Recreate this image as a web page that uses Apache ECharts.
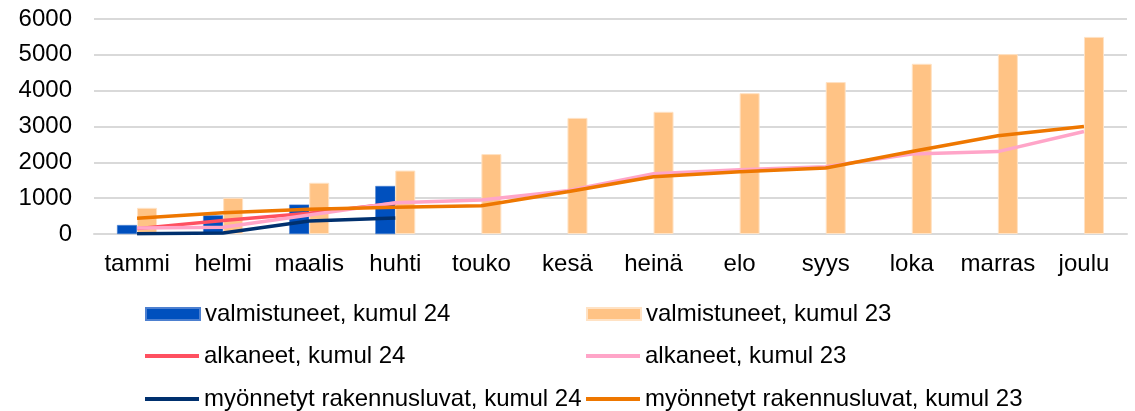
<!DOCTYPE html>
<html>
<head>
<meta charset="utf-8">
<script src="https://cdn.jsdelivr.net/npm/echarts@6/dist/echarts.min.js"></script>
<style>
html,body{margin:0;padding:0;background:#fff;}
#chart{width:1135px;height:411px;}
</style>
</head>
<body>
<div id="chart"></div>
<script>
const categories = ['tammi','helmi','maalis','huhti','touko','kesä','heinä','elo','syys','loka','marras','joulu'];
const valmistuneet24 = [250, 520, 820, 1340, null, null, null, null, null, null, null, null];
const valmistuneet23 = [730, 1010, 1430, 1770, 2230, 3240, 3410, 3930, 4240, 4750, 5020, 5500];
const alkaneet24 = [150, 380, 580, 860, null, null, null, null, null, null, null, null];
const alkaneet23 = [170, 190, 530, 870, 950, 1210, 1680, 1790, 1880, 2230, 2300, 2860];
const myonnetyt24 = [10, 30, 360, 445, null, null, null, null, null, null, null, null];
const myonnetyt23 = [440, 590, 690, 745, 790, 1180, 1600, 1740, 1840, 2300, 2740, 3000];
const yTicks = {min: 0, max: 6000, interval: 1000};

const names = ['valmistuneet, kumul 24','valmistuneet, kumul 23','alkaneet, kumul 24','alkaneet, kumul 23','myönnetyt rakennusluvat, kumul 24','myönnetyt rakennusluvat, kumul 23'];
const FONT = 'Liberation Sans, Arial, sans-serif';
const LINE_ICON = 'path://M0,0H54V4H0Z';

const chart = echarts.init(document.getElementById('chart'));
const legendText = {color:'#000', fontFamily: FONT, fontSize: 24, lineHeight: 24};
function leg(name, icon, left, top) {
  return {orient: 'horizontal', left: left, top: top, padding: 0, itemWidth: 54, itemHeight: 12,
    textStyle: legendText, selectedMode: false, symbolKeepAspect: true,
    data: [{name: name, icon: icon}]};
}
chart.setOption({
  animation: false,
  grid: {left: 94, right: 8, top: 19, bottom: 177, containLabel: false},
  legend: [
    leg(names[0], 'rect', 145, 302),
    leg(names[2], LINE_ICON, 145, 344),
    leg(names[4], LINE_ICON, 145, 387),
    leg(names[1], 'rect', 586, 302),
    leg(names[3], LINE_ICON, 586, 344),
    leg(names[5], LINE_ICON, 586, 387)
  ],
  xAxis: {
    type: 'category', data: categories, boundaryGap: true,
    axisLine: {show: true, lineStyle: {color: '#D9D9D9', width: 2}},
    axisTick: {show: false},
    axisLabel: {color: '#000', fontFamily: FONT, fontSize: 24, margin: 18, interval: 0}
  },
  yAxis: {
    type: 'value', min: yTicks.min, max: yTicks.max, interval: yTicks.interval,
    axisLine: {show: false}, axisTick: {show: false},
    axisLabel: {color: '#000', fontFamily: FONT, fontSize: 24, margin: 22, formatter: function (v) { return String(v); }},
    splitLine: {lineStyle: {color: '#D9D9D9', width: 2}}
  },
  series: [
    {name: names[0], type: 'bar', data: valmistuneet24, barWidth: 20, barGap: '0%', itemStyle: {color: '#0050BE', borderColor: '#4D80D0', borderWidth: 0.5}},
    {name: names[1], type: 'bar', data: valmistuneet23, barWidth: 20, barGap: '0%', itemStyle: {color: '#FFC385', borderColor: '#FFE2C4', borderWidth: 1}},
    {name: names[2], type: 'line', data: alkaneet24, symbol: 'none', lineStyle: {color: '#FF5060', width: 3.5}, itemStyle: {color: '#FF5060'}},
    {name: names[3], type: 'line', data: alkaneet23, symbol: 'none', lineStyle: {color: '#FFA5C8', width: 3.5}, itemStyle: {color: '#FFA5C8'}},
    {name: names[4], type: 'line', data: myonnetyt24, symbol: 'none', lineStyle: {color: '#00306E', width: 3.5}, itemStyle: {color: '#00306E'}},
    {name: names[5], type: 'line', data: myonnetyt23, symbol: 'none', lineStyle: {color: '#EE7700', width: 3.5}, itemStyle: {color: '#EE7700'}}
  ]
});
</script>
</body>
</html>
